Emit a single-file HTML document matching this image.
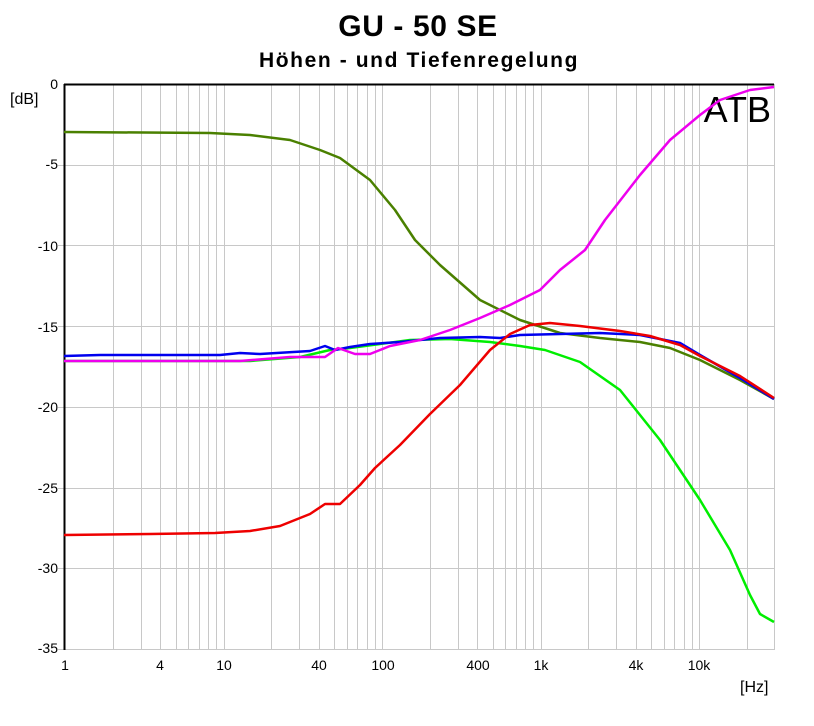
<!DOCTYPE html>
<html><head><meta charset="utf-8"><style>
body{margin:0;background:#fff;}
svg text{font-family:"Liberation Sans",Arial,sans-serif;}
</style></head><body>
<svg id="s" width="814" height="721" xmlns="http://www.w3.org/2000/svg">
<rect width="814" height="721" fill="#fff"/>
<g id="grid" stroke="#c8c8c8" stroke-width="1"></g>
<line x1="64.5" y1="84" x2="64.5" y2="650" stroke="#000" stroke-width="2"/>
<line x1="64" y1="84.5" x2="774" y2="84.5" stroke="#000" stroke-width="2"/>
<text x="418" y="36" font-size="30" font-weight="bold" text-anchor="middle" letter-spacing="0.6">GU - 50 SE</text>
<text x="419" y="67" font-size="21" font-weight="bold" text-anchor="middle" letter-spacing="1.6">Höhen - und Tiefenregelung</text>
<text x="10" y="104" font-size="16">[dB]</text>
<text x="740" y="692" font-size="16">[Hz]</text>
<text x="771" y="122" font-size="36" text-anchor="end">ATB</text>
<g font-size="14" text-anchor="end" fill="#000">
<text x="58" y="89">0</text><text x="58" y="169">-5</text><text x="58" y="251">-10</text>
<text x="58" y="332">-15</text><text x="58" y="412">-20</text><text x="58" y="493">-25</text>
<text x="58" y="573">-30</text><text x="58" y="653">-35</text></g>
<g font-size="14" text-anchor="middle">
<text x="65" y="670">1</text><text x="160" y="670">4</text><text x="224" y="670">10</text>
<text x="319" y="670">40</text><text x="383" y="670">100</text><text x="478" y="670">400</text>
<text x="541" y="670">1k</text><text x="636" y="670">4k</text><text x="699" y="670">10k</text></g>
<g fill="none" stroke-width="2.5" stroke-linejoin="round">
<polyline stroke="#4a8000" points="64,132 210,133 250,135 290,140 320,150 340,158 370,180 395,210 415,240 440,265 480,300 520,320 560,333 600,338 640,342 670,348 700,360 740,380 774,399"/>
<polyline stroke="#00ee00" points="64,361 250,361 300,357 330,350 350,348 380,344 410,340 450,339 490,342 520,346 545,350 580,362 620,390 660,440 700,500 730,550 750,595 760,614 774,622"/>
<polyline stroke="#0000ee" points="64,356 100,355 220,355 240,353 260,354 310,351 325,346 335,350 350,347 370,344 400,342 440,338 480,337 500,338 520,335 600,333 640,335 680,343 700,355 740,378 774,399"/>
<polyline stroke="#ee00ee" points="64,361 240,361 290,357 325,357 338,348 355,354 370,354 390,346 420,340 450,330 480,318 510,305 540,290 560,270 585,250 605,220 640,175 670,140 700,115 720,100 750,90 774,87"/>
<polyline stroke="#ee0000" points="64,535 150,534 215,533 250,531 280,526 310,514 325,504 340,504 360,485 375,468 400,445 430,414 460,385 490,350 510,334 530,325 550,323 580,326 620,331 650,336 680,345 700,356 740,376 774,398"/>
</g>
</svg>
<script>
var g=document.getElementById('grid'),ns="http://www.w3.org/2000/svg";
function L(x1,y1,x2,y2){var l=document.createElementNS(ns,'line');l.setAttribute('x1',x1);l.setAttribute('y1',y1);l.setAttribute('x2',x2);l.setAttribute('y2',y2);g.appendChild(l);}
for(var d=0;d<5;d++)for(var m=1;m<10;m++){var x=65+158.5*(d+Math.log10(m));if(x>774)break;if(x>66)L(Math.round(x)+0.5,84,Math.round(x)+0.5,650);}
L(774.5,84,774.5,650);
for(var k=1;k<=7;k++){var y=Math.round(84+k*80.7)+0.5;L(58,y,774,y);}
</script>
</body></html>
